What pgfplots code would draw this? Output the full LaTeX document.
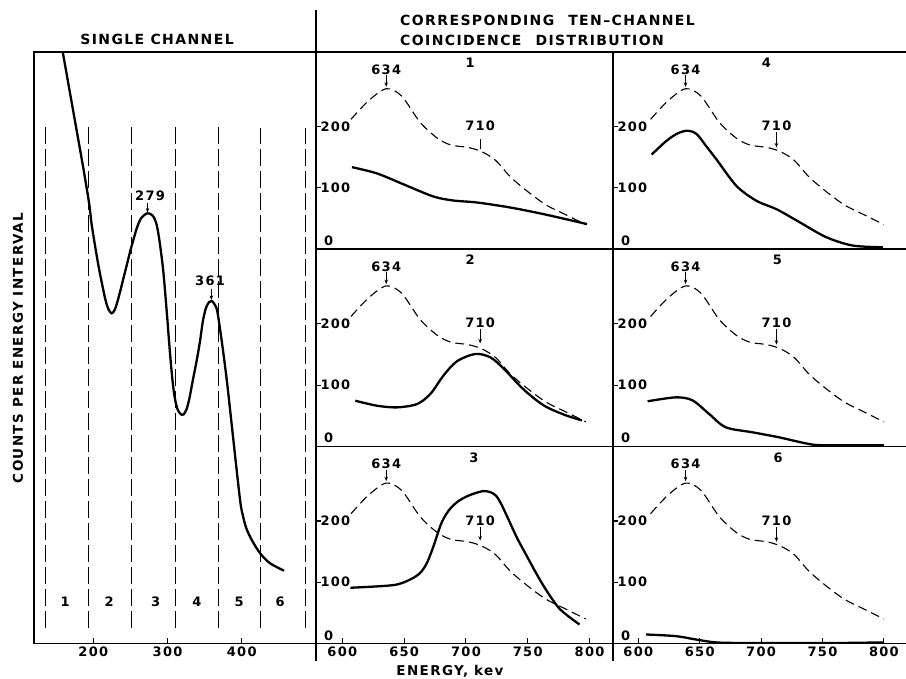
\documentclass[border=0pt]{standalone}
\usepackage{fontspec}
\setmainfont[LetterSpace=10,BoldFont={DejaVu Sans Bold}]{DejaVu Sans}
\usepackage{pgfplots}
\usepackage{pgfplotstable}
\pgfplotsset{compat=1.18}
\usetikzlibrary{arrows.meta}

\pgfplotstableread{
x y
157.1 598.5
158.8 591.2
173.0 531.8
186.5 475.2
194.6 438.5
197.8 418.5
206.7 378.5
215.8 345.2
220.5 334
224.8 330.2
229 334
233.7 345.2
241.5 368
249.5 391.8
253.9 403.5
258.5 415.2
264.3 425.2
272.8 430.2
280 427.8
285.4 418.5
289.9 398.5
294.3 371.8
298.9 331.8
302.4 298.5
305.7 270.2
309 249
313 235
317.5 229.5
321.5 229
325.5 234
329.4 245
334 263
339.4 283.5
343.8 302.5
347.5 322
351.5 335
356 341.5
359.5 342.5
363.5 339
367.1 331.8
373.0 302.5
379.8 263.5
388.7 203.5
397.7 143.5
401.5 128
406 115.5
413.5 103.5
424.7 90.2
438.1 80.2
457.0 72.8
}\single

\pgfplotstableread{
x y
607 212
621 242
635.5 262
648 250
663 207
677 181
688 170
702 166
713 159
724 145
736 118
750 94
765 72
780 57
797 40
}\dashA

\pgfplotstableread{
x y
610 212
624 242
638.5 262
651 250
666 207
680 181
691 170
705 166
716 159
727 145
739 118
753 94
768 72
783 57
800 40
}\dashB

\pgfplotstableread{
x y
607.8 133.9
628 123.7
649.6 105.8
673.8 85.9
690 79.4
708.9 76.2
735.9 68
762.8 57.2
797.9 41
}\solA

\pgfplotstableread{
x y
610.5 74.5
628 66.3
644.2 63.6
660.4 69
671.2 85.4
682 116
692.8 139
707.6 150.8
719.7 145.4
730.5 127
746.6 93
762.8 67
779 52
793.8 42.3
}\solB

\pgfplotstableread{
x y
606.5 91
641.5 95.4
655 104.6
663.1 115.5
668.5 131.8
673.8 159
679.2 191.7
682.5 206
686 217
690 226
695 234
701 240.5
707.5 245.5
714.3 248.9
720 247
724.5 241
728.5 228
733.2 208
741.3 172.7
749.3 142.7
757.4 112.7
765.5 85.5
776.3 55.6
791.9 31
}\solC

\pgfplotstableread{
x y
610.9 154.5
623 177
632 189
640 193.4
647.5 188
655 169
663.7 146.4
680 103.1
696.3 78.8
712.5 65.3
731.5 43.8
753.2 19.4
774.8 5.8
799.2 3.1
}\solD

\pgfplotstableread{
x y
607.6 73.5
630.7 80
644.2 75
657.7 52.8
671.3 31
693 22.9
714.6 14.7
736.3 4.9
749.9 1.8
800 1.8
}\solE

\pgfplotstableread{
x y
606.3 14.7
630.7 12
646.9 6.5
663.2 1.8
687.6 0.8
760 0.8
800 1.8
}\solF

\newcommand{\labfont}{\fontsize{13}{13}\selectfont\bfseries}
\pgfplotsset{
  base/.style={scale only axis, axis line style={line width=1.5pt},
    tick align=inside, tick pos=left, major tick length=5pt,
    every tick/.style={black,line width=1.1pt},
    /pgf/number format/assume math mode=true,
    ticklabel style={font=\labfont}},
  rp/.style={base, height=197.17pt, ymin=0, ymax=322, ytick={100,200},
    yticklabel style={anchor=west,xshift=1pt}, xtick=\empty},
  c1/.style={rp, width=297pt, xmin=578.7, xmax=819.0},
  c2/.style={rp, width=300pt, xmin=579.4, xmax=823.7},
  bot/.style={xtick={600,650,700,750,800}},
  refl/.style={black, line width=1.1pt, dash pattern=on 9pt off 5pt, smooth},
  sol/.style={black, line width=2.3pt, smooth},
  vd/.style={black, line width=1.1pt, dash pattern=on 17pt off 5pt},
}
\tikzset{lab/.style={font=\labfont, inner sep=1pt},
  arr/.style={line width=0.9pt,-{Stealth[length=4.5pt,width=3.5pt]}}}

\newcommand{\zero}{\node[lab,anchor=south west] at ([xshift=7pt,yshift=2pt]rel axis cs:0,0) {0};}
\newcommand{\marksA}[2]{%
  \node[lab] at (axis cs:635.5,293) {634};
  \draw[arr] (axis cs:635.5,284) -- (axis cs:635.5,265);
  \node[lab] at (axis cs:711.5,201) {710};
  \draw[arr] (axis cs:711.5,191) -- (axis cs:711.5,168);
  \node[lab] at (axis cs:#2,304) {#1};
  \zero}
\newcommand{\marksB}[2]{%
  \node[lab] at (axis cs:638.5,293) {634};
  \draw[arr] (axis cs:638.5,284) -- (axis cs:638.5,265);
  \node[lab] at (axis cs:712.5,201) {710};
  \draw[arr] (axis cs:712.5,191) -- (axis cs:712.5,166);
  \node[lab] at (axis cs:#2,304) {#1};
  \zero}
\newcommand{\ttl}{\fontsize{14}{15}\selectfont\bfseries}

\begin{document}
\begin{tikzpicture}[x=1pt,y=1pt]
\path[use as bounding box] (0,0) rectangle (906,679);

% left panel
\begin{axis}[base, at={(34pt,35.5pt)}, anchor=south west, width=282pt, height=591.5pt,
  xmin=120, xmax=500.05, ymin=0, ymax=591.5, xtick={200,300,400}, ytick=\empty]
\addplot[sol] table {\single};
\addplot[vd] coordinates {(134.9,15.5) (134.9,520.5)};
\addplot[vd] coordinates {(193.3,15.5) (193.3,517)};
\addplot[vd] coordinates {(250.8,15.5) (250.8,516)};
\addplot[vd] coordinates {(311,15.5) (311,516)};
\addplot[vd] coordinates {(368.5,15.5) (368.5,516)};
\addplot[vd] coordinates {(425.6,15.5) (425.6,515)};
\addplot[vd] coordinates {(485.5,15.5) (485.5,515)};
\node[lab] at (axis cs:276.4,447.5) {279};
\draw[arr] (axis cs:273,440) -- (axis cs:273,431);
\node[lab] at (axis cs:357.3,362.5) {361};
\draw[arr] (axis cs:359,354) -- (axis cs:359,343.5);
\node[lab] at (axis cs:161.9,41.8) {1};
\node[lab] at (axis cs:221.2,41.8) {2};
\node[lab] at (axis cs:284.1,41.8) {3};
\node[lab] at (axis cs:339.4,41.8) {4};
\node[lab] at (axis cs:396.4,41.8) {5};
\node[lab] at (axis cs:451.6,41.8) {6};
\end{axis}

% column 1
\begin{axis}[c1, at={(316pt,429.84pt)}, anchor=south west]
\addplot[refl] table {\dashA};
\addplot[sol] table {\solA};
\node[lab] at (axis cs:635.5,293) {634};
\draw[arr] (axis cs:635.5,284) -- (axis cs:635.5,265);
\node[lab] at (axis cs:711.5,201) {710};
\draw[line width=0.9pt] (axis cs:711.5,180) -- (axis cs:711.5,163);
\node[lab] at (axis cs:703.5,304) {1};
\zero
\end{axis}
\begin{axis}[c1, at={(316pt,232.67pt)}, anchor=south west]
\addplot[refl] table {\dashA};
\addplot[sol] table {\solB};
\marksA{2}{703.5}
\end{axis}
\begin{axis}[c1, bot, at={(316pt,35.5pt)}, anchor=south west]
\addplot[refl] table {\dashA};
\addplot[sol] table {\solC};
\marksA{3}{706.5}
\end{axis}

% column 2
\begin{axis}[c2, at={(613pt,429.84pt)}, anchor=south west]
\addplot[refl] table {\dashB};
\addplot[sol] table {\solD};
\marksB{4}{704.4}
\end{axis}
\begin{axis}[c2, at={(613pt,232.67pt)}, anchor=south west]
\addplot[refl] table {\dashB};
\addplot[sol] table {\solE};
\marksB{5}{713.3}
\end{axis}
\begin{axis}[c2, bot, at={(613pt,35.5pt)}, anchor=south west]
\addplot[refl] table {\dashB};
\addplot[sol] table {\solF};
\marksB{6}{713.8}
\end{axis}

% frame extras
\draw[line width=1.5pt] (316,669) -- (316,18);
\draw[line width=1.5pt] (613,35.5) -- (613,18);

% titles
\node[font=\ttl, inner sep=0pt] at (157,640) {SINGLE CHANNEL};
\node[font=\ttl, inner sep=0pt, anchor=west] at (400,659) {CORRESPONDING\quad TEN--CHANNEL};
\node[font=\ttl, inner sep=0pt, anchor=west] at (400,639) {COINCIDENCE\quad DISTRIBUTION};
\node[font=\fontsize{13.5}{14}\selectfont\bfseries, inner sep=0pt, rotate=90] at (18,331) {COUNTS PER ENERGY INTERVAL};
\node[font=\fontsize{13.5}{14}\selectfont\bfseries, inner sep=0pt] at (450,8) {ENERGY, kev};
\end{tikzpicture}
\end{document}
